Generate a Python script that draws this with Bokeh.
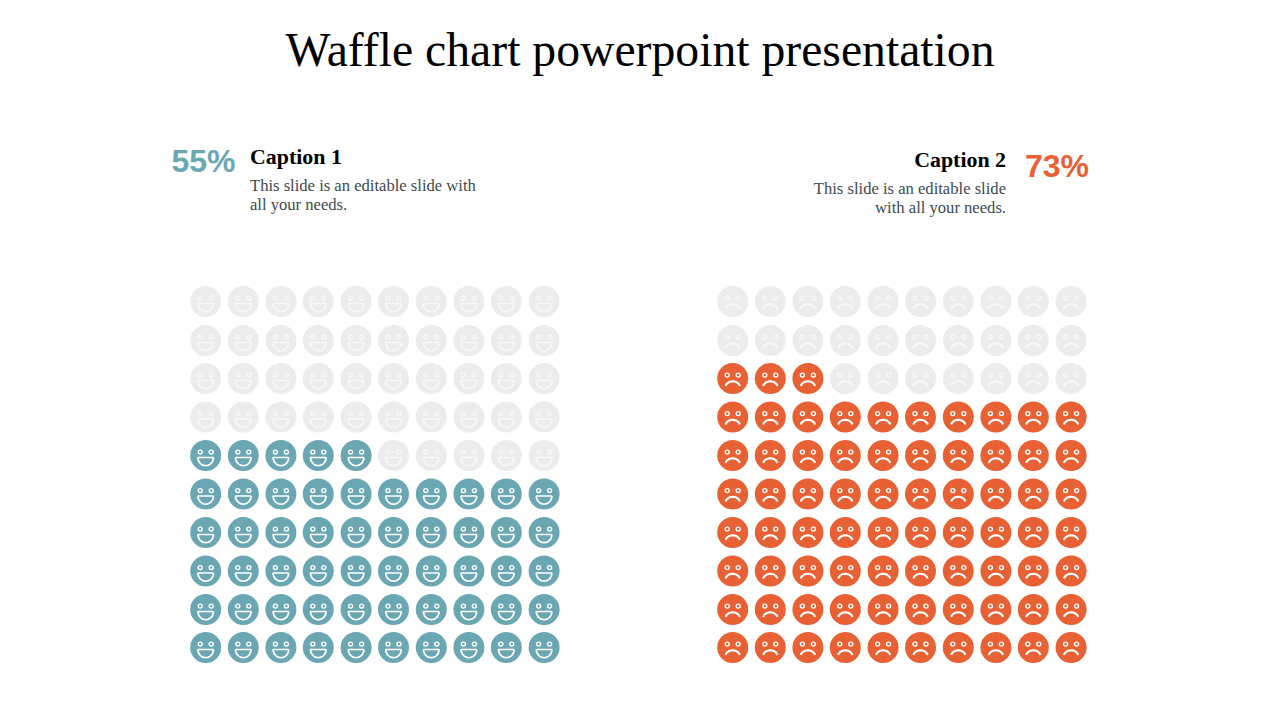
import math
from bokeh.plotting import figure
from bokeh.models import Range1d
from bokeh.core.properties import value
from bokeh.embed import file_html
from bokeh.resources import INLINE

title = "Waffle chart powerpoint presentation"
percent = [55, 73]
labels = ["55%", "73%"]
captions = ["Caption 1", "Caption 2"]
body1 = ["This slide is an editable slide with", "all your needs."]
body2 = ["This slide is an editable slide", "with all your needs."]
moods = ["smile", "frown"]
colors = ["#6ba7b2", "#e76134"]

GREY, GREY_FEATURE = "#ececec", "#f8f8f8"
origin_x = [205.2, 732.2]
column_centres = [0, 37.6, 75.2, 112.6, 150.4, 187.8, 225.6, 263.2, 300.6, 338.4]
row_centres = [647, 609, 570.5, 532, 493.5, 455, 416.5, 378, 340, 301]

p = figure(width=1264, height=704, output_backend="svg", toolbar_location=None,
           x_range=Range1d(0, 1264), y_range=Range1d(704, 0),
           min_border=0, outline_line_color=None)
p.xaxis.visible = False
p.yaxis.visible = False
p.grid.visible = False


def curve(cx, cy, a0, a1, rx, ry, ox=0, oy=0, n=14, close=False):
    xs = [cx + ox + rx * math.cos(a0 + (a1 - a0) * i / n) for i in range(n + 1)]
    ys = [cy + oy + ry * math.sin(a0 + (a1 - a0) * i / n) for i in range(n + 1)]
    if close:
        xs.append(xs[0])
        ys.append(ys[0])
    return xs, ys


for panel in range(2):
    fx, fy, fc, ec, mx, my = [], [], [], [], [], []
    mc = []
    count = 0
    for row in row_centres:
        for col in column_centres:
            on = count < percent[panel]
            count += 1
            x, y = origin_x[panel] + col, row
            face = colors[panel] if on else GREY
            feature = "white" if on else GREY_FEATURE
            fx.append(x); fy.append(y); fc.append(face); ec.append(feature)
            if moods[panel] == "smile":
                a, b = curve(x, y, 0, math.pi, 7.8, 8.2, oy=2.0, close=True)
            else:
                a, b = curve(x, y, math.pi * 1.06, math.pi * 1.94, 7.2, 5.8, oy=8.6)
            mx.append(a); my.append(b); mc.append(feature)
    p.scatter(fx, fy, size=31, fill_color=fc, line_color=None)
    w = 1.7 if moods[panel] == "smile" else 2.1
    p.multi_line(mx, my, line_color=mc, line_width=w)
    for side in (-1, 1):
        p.scatter([a + side * 5.5 for a in fx], [b - 3.4 for b in fy], size=4,
                  fill_color=fc, line_color=ec, line_width=1.4)

serif = value("Liberation Serif")
sans = value("Liberation Sans")


def put(x, y, s, size, color, font, align="left", style="normal"):
    p.text([x], [y], text=[s], text_font=font, text_font_size=size, text_color=color,
           text_align=align, text_baseline="middle", text_font_style=style)


put(639.5, 49, title, "47.7px", "#000000", serif, "center")
put(171, 160, labels[0], "32px", colors[0], sans, "left", "bold")
put(1024.5, 165, labels[1], "32px", colors[1], sans, "left", "bold")
put(249.5, 155.5, captions[0], "21.9px", "#000000", serif, "left", "bold")
put(1005.5, 158.5, captions[1], "21.9px", "#000000", serif, "right", "bold")
for i, s in enumerate(body1):
    put(249.5, 184.5 + 19 * i, s, "16.6px", "#404a50", serif)
for i, s in enumerate(body2):
    put(1005.5, 187.5 + 19 * i, s, "16.6px", "#404a50", serif, "right")

open("out.html", "w").write(file_html(p, INLINE))
